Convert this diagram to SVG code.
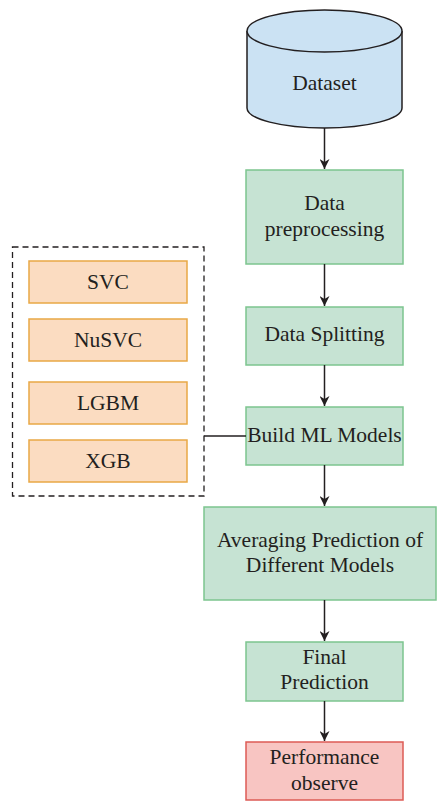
<svg xmlns="http://www.w3.org/2000/svg" width="437" height="801" viewBox="0 0 437 801">
  <defs>
    <marker id="arrow" viewBox="0 0 10 10" refX="10" refY="5" markerWidth="10" markerHeight="10" markerUnits="userSpaceOnUse" orient="auto">
      <path d="M0,0 L10,5 L0,10 L3,5 Z" fill="#231f20"/>
    </marker>
    <style>
      .lbl { font-family: 'Liberation Serif', serif; font-size: 21.5px; fill: #231f20; text-anchor: middle; }
      .green { fill: #c6e3d3; stroke: #7cc58f; stroke-width: 1.5; }
      .orange { fill: #fbdcc1; stroke: #e9a845; stroke-width: 1.5; }
      .red { fill: #f8c5c2; stroke: #dd5b55; stroke-width: 1.5; }
      .db { fill: #cbe2f3; stroke: #231f20; stroke-width: 1.5; }
      .conn { stroke: #231f20; stroke-width: 1.5; fill: none; }
      .dash { stroke: #231f20; stroke-width: 1.3; fill: none; stroke-dasharray: 6 4; }
    </style>
  </defs>
  <rect width="437" height="801" fill="#ffffff"/>

  <!-- Dataset cylinder -->
  <g id="dataset">
    <path class="db" d="M247,31 L247,108 A77.5,20 0 0 0 402,108 L402,31"/>
    <ellipse class="db" cx="324.5" cy="31" rx="77.5" ry="21"/>
    <text class="lbl" x="324.5" y="90">Dataset</text>
  </g>

  <g id="preprocessing">
    <rect class="green" x="246" y="170" width="157" height="94"/>
    <text class="lbl" x="324.5" y="210">Data</text>
    <text class="lbl" x="324.5" y="236">preprocessing</text>
  </g>

  <g id="splitting">
    <rect class="green" x="246" y="307" width="157" height="58"/>
    <text class="lbl" x="324.5" y="341">Data Splitting</text>
  </g>

  <g id="build">
    <rect class="green" x="246" y="407" width="157" height="58"/>
    <text class="lbl" x="324.5" y="442">Build ML Models</text>
  </g>

  <g id="averaging">
    <rect class="green" x="204" y="507" width="232" height="93"/>
    <text class="lbl" x="320" y="547">Averaging Prediction of</text>
    <text class="lbl" x="320" y="572">Different Models</text>
  </g>

  <g id="final">
    <rect class="green" x="246" y="642" width="157" height="59"/>
    <text class="lbl" x="324.5" y="664">Final</text>
    <text class="lbl" x="324.5" y="689">Prediction</text>
  </g>

  <g id="performance">
    <rect class="red" x="246" y="742" width="157" height="58"/>
    <text class="lbl" x="324.5" y="764">Performance</text>
    <text class="lbl" x="324.5" y="790">observe</text>
  </g>

  <!-- Model group -->
  <g id="models">
    <rect class="dash" x="12.5" y="247" width="191.5" height="249"/>
    <g id="svc">
      <rect class="orange" x="29" y="261" width="158" height="42"/>
      <text class="lbl" x="108" y="289">SVC</text>
    </g>
    <g id="nusvc">
      <rect class="orange" x="29" y="319" width="158" height="42"/>
      <text class="lbl" x="108" y="347">NuSVC</text>
    </g>
    <g id="lgbm">
      <rect class="orange" x="29" y="382" width="158" height="42"/>
      <text class="lbl" x="108" y="410">LGBM</text>
    </g>
    <g id="xgb">
      <rect class="orange" x="29" y="440" width="158" height="42"/>
      <text class="lbl" x="108" y="468">XGB</text>
    </g>
  </g>

  <!-- Connectors -->
  <g id="connectors">
    <line class="conn" x1="324.5" y1="128" x2="324.5" y2="169" marker-end="url(#arrow)"/>
    <line class="conn" x1="324.5" y1="264" x2="324.5" y2="306" marker-end="url(#arrow)"/>
    <line class="conn" x1="324.5" y1="365" x2="324.5" y2="406" marker-end="url(#arrow)"/>
    <line class="conn" x1="324.5" y1="465" x2="324.5" y2="506" marker-end="url(#arrow)"/>
    <line class="conn" x1="324.5" y1="600" x2="324.5" y2="641" marker-end="url(#arrow)"/>
    <line class="conn" x1="324.5" y1="701" x2="324.5" y2="741" marker-end="url(#arrow)"/>
    <line class="conn" x1="204" y1="436" x2="246" y2="436"/>
  </g>
</svg>
